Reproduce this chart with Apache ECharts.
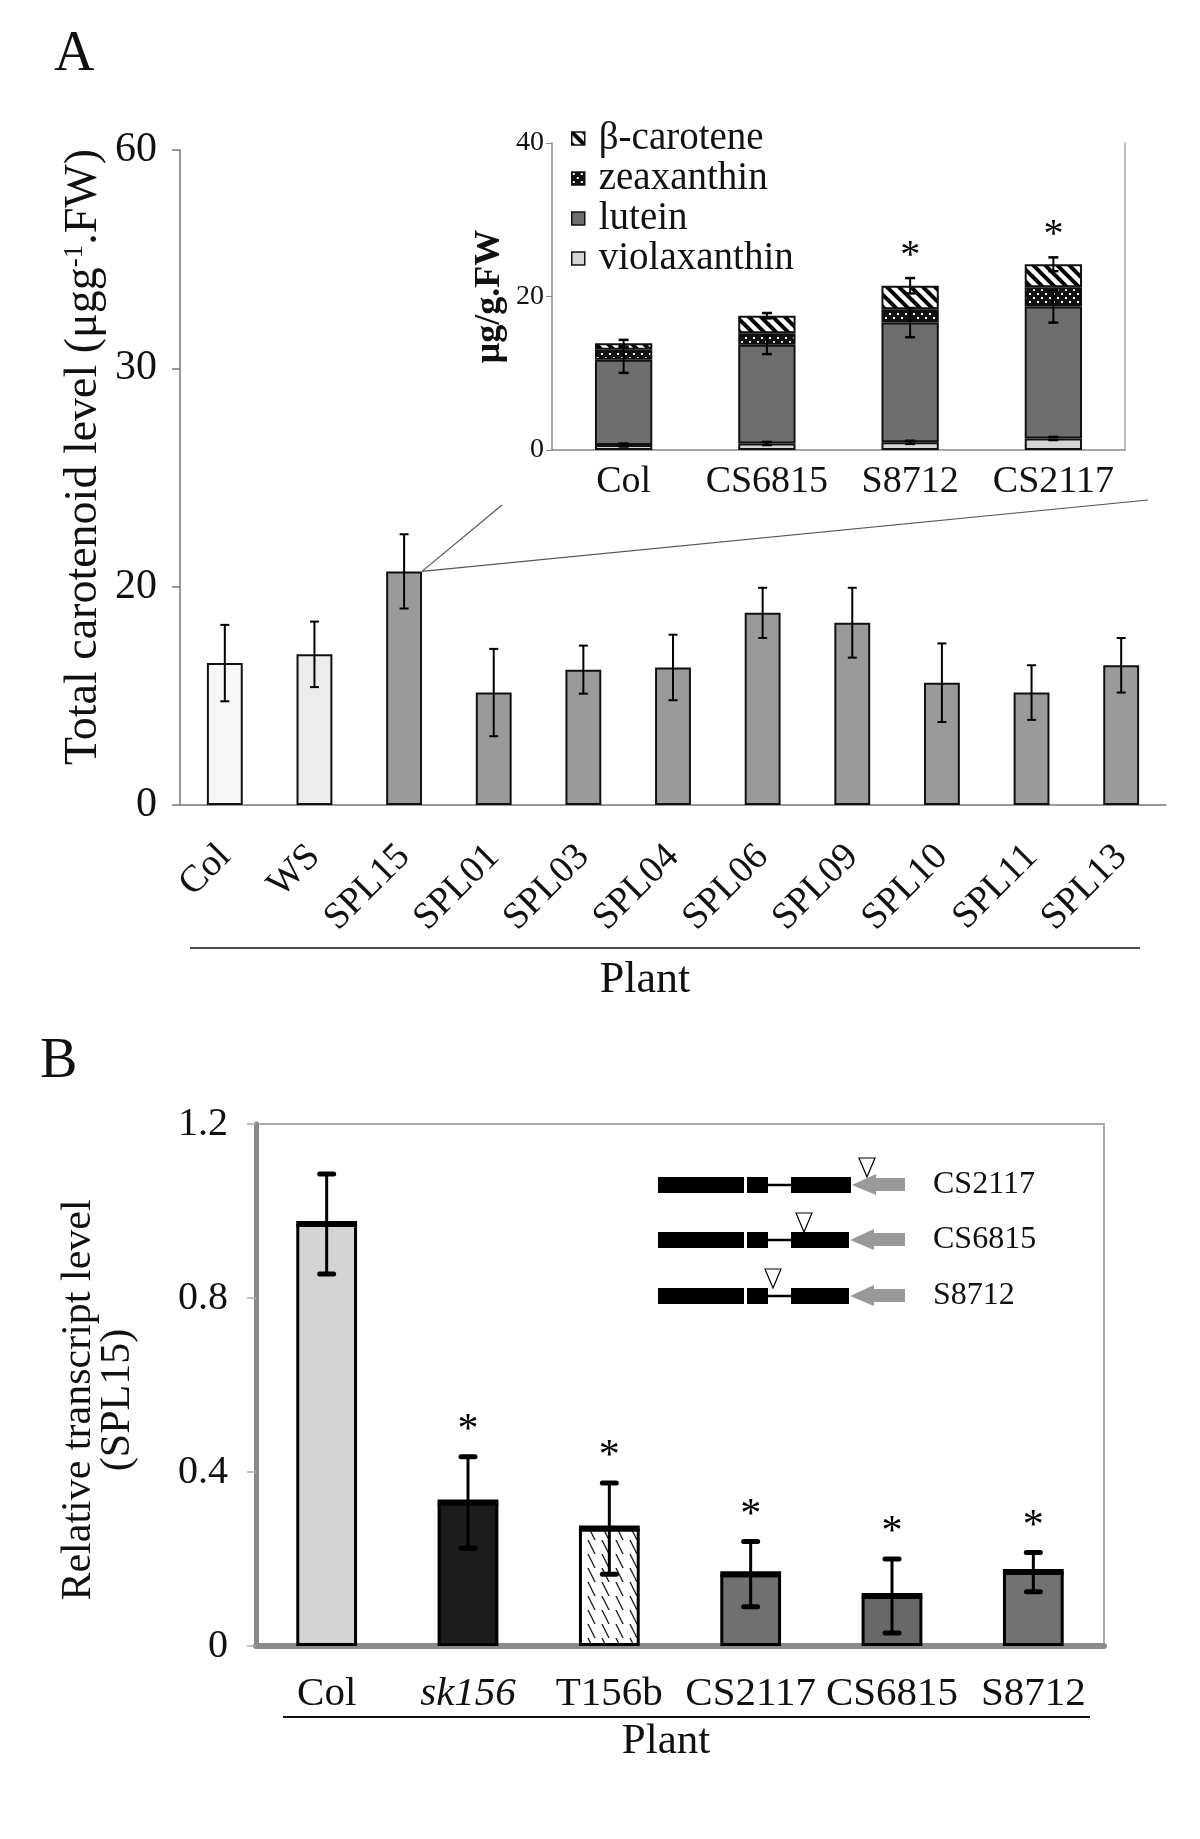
<!DOCTYPE html>
<html><head><meta charset="utf-8">
<script src="https://cdn.jsdelivr.net/npm/echarts@6.0.0/dist/echarts.min.js"></script>
<style>html,body{margin:0;padding:0;background:#fff}#c{width:1200px;height:1839px}</style>
</head><body><div id="c"></div>
<script>
const FONT = '"Liberation Serif","Times New Roman",Times,serif';

// ---------- Panel A : total carotenoid ----------
const catsA = ['Col','WS','SPL15','SPL01','SPL03','SPL04','SPL06','SPL09','SPL10','SPL11','SPL13'];
const totalA = [13.0, 13.8, 21.4, 10.3, 12.4, 12.6, 17.6, 16.7, 11.2, 10.3, 12.8];
const errA   = [3.5, 3.0, 3.4, 4.0, 2.2, 3.0, 2.3, 3.2, 3.6, 2.5, 2.5];
const yTicksA = ['0','20','30','60'];

// ---------- Panel A inset : carotenoid composition ----------
const catsInset = ['Col','CS6815','S8712','CS2117'];
const violaxanthin = [0.65, 0.85, 1.0, 1.5];
const lutein       = [11.1, 12.85, 15.6, 17.2];
const zeaxanthin   = [1.3, 1.5, 1.75, 2.5];
const betaCarotene = [0.85, 2.3, 3.05, 3.0];
const violaErr  = [0.2, 0.2, 0.2, 0.2];
const luteinErr = [1.7, 1.2, 1.9, 2.1];
const totalErr  = [0.45, 0.35, 1.0, 0.9];
const sigInset  = [0, 0, 1, 1];
const yTicksInset = ['0','20','40'];

// ---------- Panel B : relative transcript ----------
const catsB = ['Col','sk156','T156b','CS2117','CS6815','S8712'];
const relB  = [0.97, 0.33, 0.27, 0.165, 0.115, 0.17];
const errB  = [0.115, 0.105, 0.105, 0.075, 0.085, 0.045];
const sigB  = [0, 1, 1, 1, 1, 1];
const yTicksB = ['0','0.4','0.8','1.2'];

// ---------- patterns ----------
function pat(s, draw){ const c=document.createElement('canvas'); c.width=s; c.height=s; const g=c.getContext('2d'); draw(g,s); return {image:c, repeat:'repeat'}; }
const zeaPat = pat(8, (g,s)=>{ g.fillStyle='#111'; g.fillRect(0,0,s,s); g.fillStyle='#fff'; g.fillRect(1,1,2,2); g.fillRect(5,5,2,2); });
const betaPat = pat(12, (g,s)=>{ g.fillStyle='#fff'; g.fillRect(0,0,s,s); g.strokeStyle='#000'; g.lineWidth=4; for(let k=-1;k<=1;k++){ g.beginPath(); g.moveTo(k*s-2,-2); g.lineTo(k*s+s+2,s+2); g.stroke(); } });
const hatchPat = pat(14, (g,s)=>{ g.fillStyle='#fff'; g.fillRect(0,0,s,s); g.strokeStyle='#222'; g.lineWidth=1.3; for(let k=-1;k<=1;k++){ g.beginPath(); g.moveTo(k*s-2,-4); g.lineTo(k*s+s/2+2,s+4); g.stroke(); } });

const colorsA = ['#f7f7f7','#ececec','#9a9a9a','#9a9a9a','#9a9a9a','#9a9a9a','#9a9a9a','#9a9a9a','#9a9a9a','#9a9a9a','#9a9a9a'];
const colorsB = ['#d4d4d4','#1c1c1c',hatchPat,'#707070','#686868','#727272'];

function makeErr(o){
  return function(params, api){
    const i=api.value(0), v=api.value(1), e=api.value(2), sig=api.value(3);
    const t=api.coord([i,v+e]), b=api.coord([i,v-e]), m=api.coord([i,v]);
    const hw=o.capW/2;
    const ch=[];
    if(o.topBar){ const bw=api.size([1,0])[0]*o.barFrac; ch.push({type:'line',shape:{x1:m[0]-bw/2,y1:m[1],x2:m[0]+bw/2,y2:m[1]},style:{stroke:'#000',lineWidth:o.topBar}}); }
    ch.push({type:'line',shape:{x1:t[0],y1:t[1],x2:b[0],y2:b[1]},style:{stroke:'#000',lineWidth:o.stemW}});
    ch.push({type:'line',shape:{x1:t[0]-hw,y1:t[1],x2:t[0]+hw,y2:t[1]},style:{stroke:'#000',lineWidth:o.capLW,lineCap:o.round?'round':'butt'}});
    ch.push({type:'line',shape:{x1:b[0]-hw,y1:b[1],x2:b[0]+hw,y2:b[1]},style:{stroke:'#000',lineWidth:o.capLW,lineCap:o.round?'round':'butt'}});
    if(o.star && sig){ ch.push({type:'text',style:{text:'*',x:t[0],y:t[1]-o.starOff,fill:'#000',font:o.starFont,align:'center',verticalAlign:'middle'}}); }
    return {type:'group',children:ch};
  };
}

// cumulative tops for inset error bars
const luteinTop = lutein.map((v,i)=>v+violaxanthin[i]);
const totalInset = betaCarotene.map((v,i)=>v+zeaxanthin[i]+lutein[i]+violaxanthin[i]);

const txt = {fontFamily:FONT, color:'#111'};

const chart = echarts.init(document.getElementById('c'), null, {renderer:'canvas'});
const option = {
  backgroundColor:'#fff',
  animation:false,
  grid:[
    {left:180, top:150, width:986, height:655, outerBoundsMode:'none'},
    {left:552, top:143, width:573, height:307, outerBoundsMode:'none'},
    {left:256, top:1124, width:848, height:522, show:true, borderColor:'#aaa', borderWidth:2, backgroundColor:'rgba(0,0,0,0)', outerBoundsMode:'none'}
  ],
  legend:{
    data:['β-carotene','zeaxanthin','lutein','violaxanthin'],
    orient:'vertical', left:566, top:114, itemWidth:13, itemHeight:13, itemGap:1, icon:'rect',
    selectedMode:false,
    itemStyle:{borderColor:'#111', borderWidth:1.5},
    textStyle:{fontFamily:FONT, fontSize:39, color:'#111', lineHeight:36, padding:[0,0,0,9]}
  },
  xAxis:[
    {type:'category', gridIndex:0, data:catsA,
     axisLine:{lineStyle:{color:'#777', width:1.5}}, axisTick:{length:10, lineStyle:{color:'#777', width:1.5}},
     axisLabel:{interval:0, rotate:45, margin:46, fontSize:38, ...txt}},
    {type:'category', gridIndex:1, data:catsInset,
     axisLine:{lineStyle:{color:'#888', width:1.5}}, axisTick:{length:6, lineStyle:{color:'#999', width:1}},
     axisLabel:{interval:0, margin:13, fontSize:38, ...txt}},
    {type:'category', gridIndex:2, data:catsB,
     axisLine:{lineStyle:{color:'#8a8a8a', width:6}}, axisTick:{length:16, lineStyle:{color:'#bbb', width:1.5}},
     axisLabel:{interval:0, margin:28, fontSize:41, ...txt,
       formatter:(v)=> v==='sk156' ? '{i|'+v+'}' : v,
       rich:{i:{fontStyle:'italic', fontFamily:FONT, fontSize:41, color:'#111'}}}}
  ],
  yAxis:[
    {type:'value', gridIndex:0, min:0, max:60, interval:20, splitLine:{show:false},
     axisLine:{show:true, lineStyle:{color:'#777', width:1.5}}, axisTick:{show:true, length:8, lineStyle:{color:'#777', width:1.5}},
     axisLabel:{margin:23, fontSize:42, ...txt, formatter:(v)=> yTicksA[Math.round(v/20)]}},
    {type:'value', gridIndex:1, min:0, max:40, interval:20, splitLine:{show:false},
     axisLine:{show:true, lineStyle:{color:'#888', width:1.5}}, axisTick:{show:true, length:6, lineStyle:{color:'#888'}},
     axisLabel:{margin:8, fontSize:28, ...txt, formatter:(v)=> yTicksInset[Math.round(v/20)]},
     name:'μg/g.FW', nameLocation:'middle', nameRotate:90, nameGap:44,
     nameTextStyle:{fontFamily:FONT, fontSize:36, fontWeight:'bold', color:'#111'}},
    {type:'value', gridIndex:1, min:0, max:40, position:'right', splitLine:{show:false},
     axisLine:{show:true, lineStyle:{color:'#aaa', width:1.5}}, axisTick:{show:false}, axisLabel:{show:false}},
    {type:'value', gridIndex:2, min:0, max:1.2, interval:0.4, splitLine:{show:false},
     axisLine:{show:true, lineStyle:{color:'#8a8a8a', width:5}}, axisTick:{show:true, length:9, lineStyle:{color:'#aaa', width:1.5}},
     axisLabel:{margin:28, fontSize:40, ...txt, formatter:(v)=> yTicksB[Math.round(v/0.4)]}}
  ],
  series:[
    // Panel A bars
    {type:'bar', xAxisIndex:0, yAxisIndex:0, barWidth:'40%', data:totalA.map((v,i)=>({value:v, itemStyle:{color:colorsA[i]}})),
     itemStyle:{borderColor:'#111', borderWidth:2}, z:2},
    {type:'custom', xAxisIndex:0, yAxisIndex:0, renderItem:makeErr({capW:9, stemW:2, capLW:2}),
     data:catsA.map((c,i)=>[i,totalA[i],errA[i],0]), encode:{x:0,y:1}, z:3},
    // Inset stacked bars
    {name:'violaxanthin', type:'bar', stack:'ins', xAxisIndex:1, yAxisIndex:1, barWidth:'40%', data:violaxanthin,
     itemStyle:{color:'#d6d6d6', borderColor:'#111', borderWidth:2}, z:5},
    {name:'lutein', type:'bar', stack:'ins', xAxisIndex:1, yAxisIndex:1, barWidth:'40%', data:lutein,
     itemStyle:{color:'#6e6e6e', borderColor:'#111', borderWidth:2}, z:5},
    {name:'zeaxanthin', type:'bar', stack:'ins', xAxisIndex:1, yAxisIndex:1, barWidth:'40%', data:zeaxanthin,
     itemStyle:{color:zeaPat, borderColor:'#111', borderWidth:2}, z:5},
    {name:'β-carotene', type:'bar', stack:'ins', xAxisIndex:1, yAxisIndex:1, barWidth:'40%', data:betaCarotene,
     itemStyle:{color:betaPat, borderColor:'#111', borderWidth:2}, z:5},
    {type:'custom', xAxisIndex:1, yAxisIndex:1, renderItem:makeErr({capW:10, stemW:2, capLW:2.5}),
     data:catsInset.map((c,i)=>[i,violaxanthin[i],violaErr[i],0]), encode:{x:0,y:1}, z:6},
    {type:'custom', xAxisIndex:1, yAxisIndex:1, renderItem:makeErr({capW:10, stemW:2, capLW:2.5}),
     data:catsInset.map((c,i)=>[i,luteinTop[i],luteinErr[i],0]), encode:{x:0,y:1}, z:6},
    {type:'custom', xAxisIndex:1, yAxisIndex:1, renderItem:makeErr({capW:10, stemW:2, capLW:2.5, star:true, starOff:22, starFont:'40px '+FONT}),
     data:catsInset.map((c,i)=>[i,totalInset[i],totalErr[i],sigInset[i]]), encode:{x:0,y:1}, z:6},
    // Panel B bars
    {type:'bar', xAxisIndex:2, yAxisIndex:3, barWidth:'43%', data:relB.map((v,i)=>({value:v, itemStyle:{color:colorsB[i]}})),
     itemStyle:{borderColor:'#000', borderWidth:3}, z:2},
    {type:'custom', xAxisIndex:2, yAxisIndex:3,
     renderItem:makeErr({capW:14, stemW:3, capLW:5, round:true, topBar:6, barFrac:0.43, star:true, starOff:26, starFont:'42px '+FONT}),
     data:catsB.map((c,i)=>[i,relB[i],errB[i],sigB[i]]), encode:{x:0,y:1}, z:3}
  ],
  graphic:[
    {type:'text', left:54, top:27, style:{text:'A', font:'56px '+FONT, fill:'#111'}},
    {type:'text', left:40, top:1034, style:{text:'B', font:'56px '+FONT, fill:'#111'}},
    {type:'text', x:84, y:457, rotation:Math.PI/2,
     style:{text:'Total carotenoid level (μgg{s|-1}.FW)', font:'46px '+FONT, fill:'#111', align:'center', verticalAlign:'middle',
       rich:{s:{fontSize:27, fontFamily:FONT, verticalAlign:'top', lineHeight:46, fill:'#111'}}}},
    {type:'line', shape:{x1:190, y1:948, x2:1140, y2:948}, style:{stroke:'#111', lineWidth:1.5}},
    {type:'text', x:645, y:980, style:{text:'Plant', font:'44px '+FONT, fill:'#111', align:'center', verticalAlign:'middle'}},
    {type:'text', x:98, y:1400, rotation:Math.PI/2,
     style:{text:'Relative transcript level\n(SPL15)', font:'42px '+FONT, fill:'#111', align:'center', verticalAlign:'middle', lineHeight:39}},
    {type:'line', shape:{x1:283, y1:1717, x2:1090, y2:1717}, style:{stroke:'#111', lineWidth:2}},
    {type:'text', x:666, y:1742, style:{text:'Plant', font:'43px '+FONT, fill:'#111', align:'center', verticalAlign:'middle'}}
  ]
};
chart.setOption(option);

// zoom lines from SPL15 bar top-right corner to the inset
const p = chart.convertToPixel({xAxisIndex:0, yAxisIndex:0}, [2, totalA[2]]);
const halfBar = 986/catsA.length*0.4/2;
const sx = p[0]+halfBar, sy = p[1];

// gene diagram (schematic) in panel B
const geneRows = [
  {y:1185, label:'CS2117', tri:867, endX:851},
  {y:1240, label:'CS6815', tri:804, endX:849},
  {y:1296, label:'S8712',  tri:773, endX:849}
];
const g2 = [
  {type:'line', shape:{x1:sx, y1:sy, x2:502, y2:505}, style:{stroke:'#555', lineWidth:1.2}, z:10},
  {type:'line', shape:{x1:sx, y1:sy, x2:1148, y2:500}, style:{stroke:'#555', lineWidth:1.2}, z:10}
];
geneRows.forEach(r=>{
  const h=16;
  g2.push({type:'rect', shape:{x:658, y:r.y-h/2, width:86, height:h}, style:{fill:'#000'}});
  g2.push({type:'rect', shape:{x:747, y:r.y-h/2, width:21, height:h}, style:{fill:'#000'}});
  g2.push({type:'line', shape:{x1:768, y1:r.y, x2:791, y2:r.y}, style:{stroke:'#000', lineWidth:2.5}});
  g2.push({type:'rect', shape:{x:791, y:r.y-h/2, width:r.endX-791, height:h}, style:{fill:'#000'}});
  g2.push({type:'polygon', shape:{points:[[r.endX+1,r.y],[r.endX+25,r.y-11],[r.endX+25,r.y-7],[905,r.y-7],[905,r.y+6],[r.endX+25,r.y+6],[r.endX+25,r.y+10]]}, style:{fill:'#999'}});
  g2.push({type:'polygon', shape:{points:[[r.tri-8,r.y-27],[r.tri+8,r.y-27],[r.tri,r.y-8]]}, style:{fill:'#fff', stroke:'#000', lineWidth:1.2}});
  g2.push({type:'text', x:933, y:r.y, style:{text:r.label, font:'32px '+FONT, fill:'#111', verticalAlign:'middle'}});
});
chart.setOption({graphic: option.graphic.concat(g2)});
</script>
</body></html>
